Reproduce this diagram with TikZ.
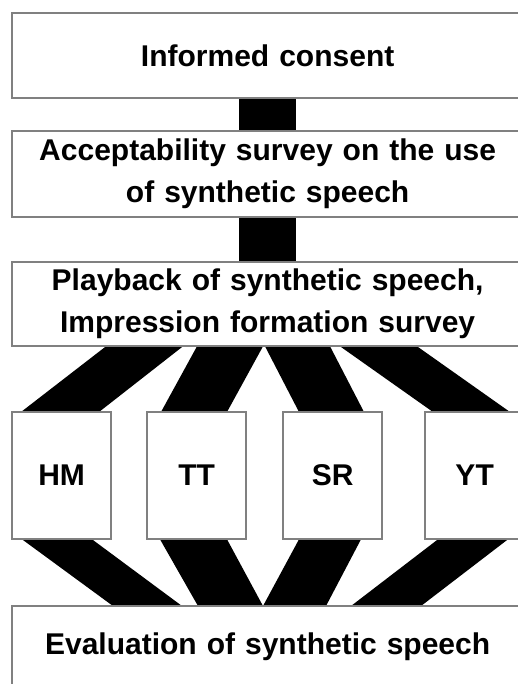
\documentclass[tikz,border=0pt]{standalone}
\usepackage{fontspec}
\setmainfont{Liberation Sans}
\usetikzlibrary{calc}
\begin{document}
\begin{tikzpicture}[x=1pt,y=-1pt,
  box/.style={draw=black!50,line width=1.3pt,fill=white,anchor=north west,inner sep=0pt,
    align=center,font=\fontsize{30}{42}\selectfont\bfseries},
  wide/.style={box,minimum width=510,text width=500},
  small/.style={box,minimum width=98,minimum height=126},
  band/.style={fill=black}]
\useasboundingbox (0,0) rectangle (518,684);
\begin{scope}
\clip (0,0) rectangle (518,684);
% boxes
\node[wide,minimum height=84] (ic) at (12,13) {Informed consent};
\node[wide,minimum height=85] (acc) at (12,131) {Acceptability survey on the use\\of synthetic speech};
\node[wide,minimum height=83] (pb) at (12,262) {Playback of synthetic speech,\\Impression formation survey};
\node[small] (hm) at (12,412) {HM};
\node[small] (tt) at (147,412) {TT};
\node[small] (sr) at (283,412) {SR};
\node[small] (yt) at (425,412) {YT};
\node[wide,minimum height=80] (ev) at (12,606) {Evaluation of synthetic speech};
% vertical connectors
\begin{scope}[on background layer/.try]
\end{scope}
\draw[line width=57pt] (ic.south) -- (acc.north);
\draw[line width=57pt] (acc.south) -- (pb.north);
% upper fan
\fill[band] ($(pb.south west)+(94,0)$) -- ($(pb.south west)+(171,0)$) -- ($(hm.north west)+(87,0)$) -- ($(hm.north west)+(9,0)$) -- cycle;
\fill[band] ($(pb.south west)+(185,0)$) -- ($(pb.south west)+(251,0)$) -- ($(tt.north west)+(80,0)$) -- ($(tt.north west)+(14,0)$) -- cycle;
\fill[band] ($(pb.south west)+(253,0)$) -- ($(pb.south west)+(318,0)$) -- ($(sr.north west)+(81,0)$) -- ($(sr.north west)+(16,0)$) -- cycle;
\fill[band] ($(pb.south west)+(328,0)$) -- ($(pb.south west)+(405,0)$) -- ($(yt.north west)+(85,0)$) -- ($(yt.north west)+(8,0)$) -- cycle;
% lower fan
\fill[band] ($(hm.south west)+(10,0)$) -- ($(hm.south west)+(80,0)$) -- ($(ev.north west)+(170,0)$) -- ($(ev.north west)+(101,0)$) -- cycle;
\fill[band] ($(tt.south west)+(13,0)$) -- ($(tt.south west)+(80,0)$) -- ($(ev.north west)+(251,0)$) -- ($(ev.north west)+(186,0)$) -- cycle;
\fill[band] ($(sr.south west)+(16,0)$) -- ($(sr.south west)+(78,0)$) -- ($(ev.north west)+(314,0)$) -- ($(ev.north west)+(251,0)$) -- cycle;
\fill[band] ($(yt.south west)+(13,0)$) -- ($(yt.south west)+(83,0)$) -- ($(ev.north west)+(409,0)$) -- ($(ev.north west)+(339,0)$) -- cycle;
% redraw box outlines on top
\foreach \n in {ic,acc,pb,hm,tt,sr,yt,ev}
  \draw[black!50,line width=1.3pt] (\n.north west) rectangle (\n.south east);
\end{scope}
\end{tikzpicture}
\end{document}
